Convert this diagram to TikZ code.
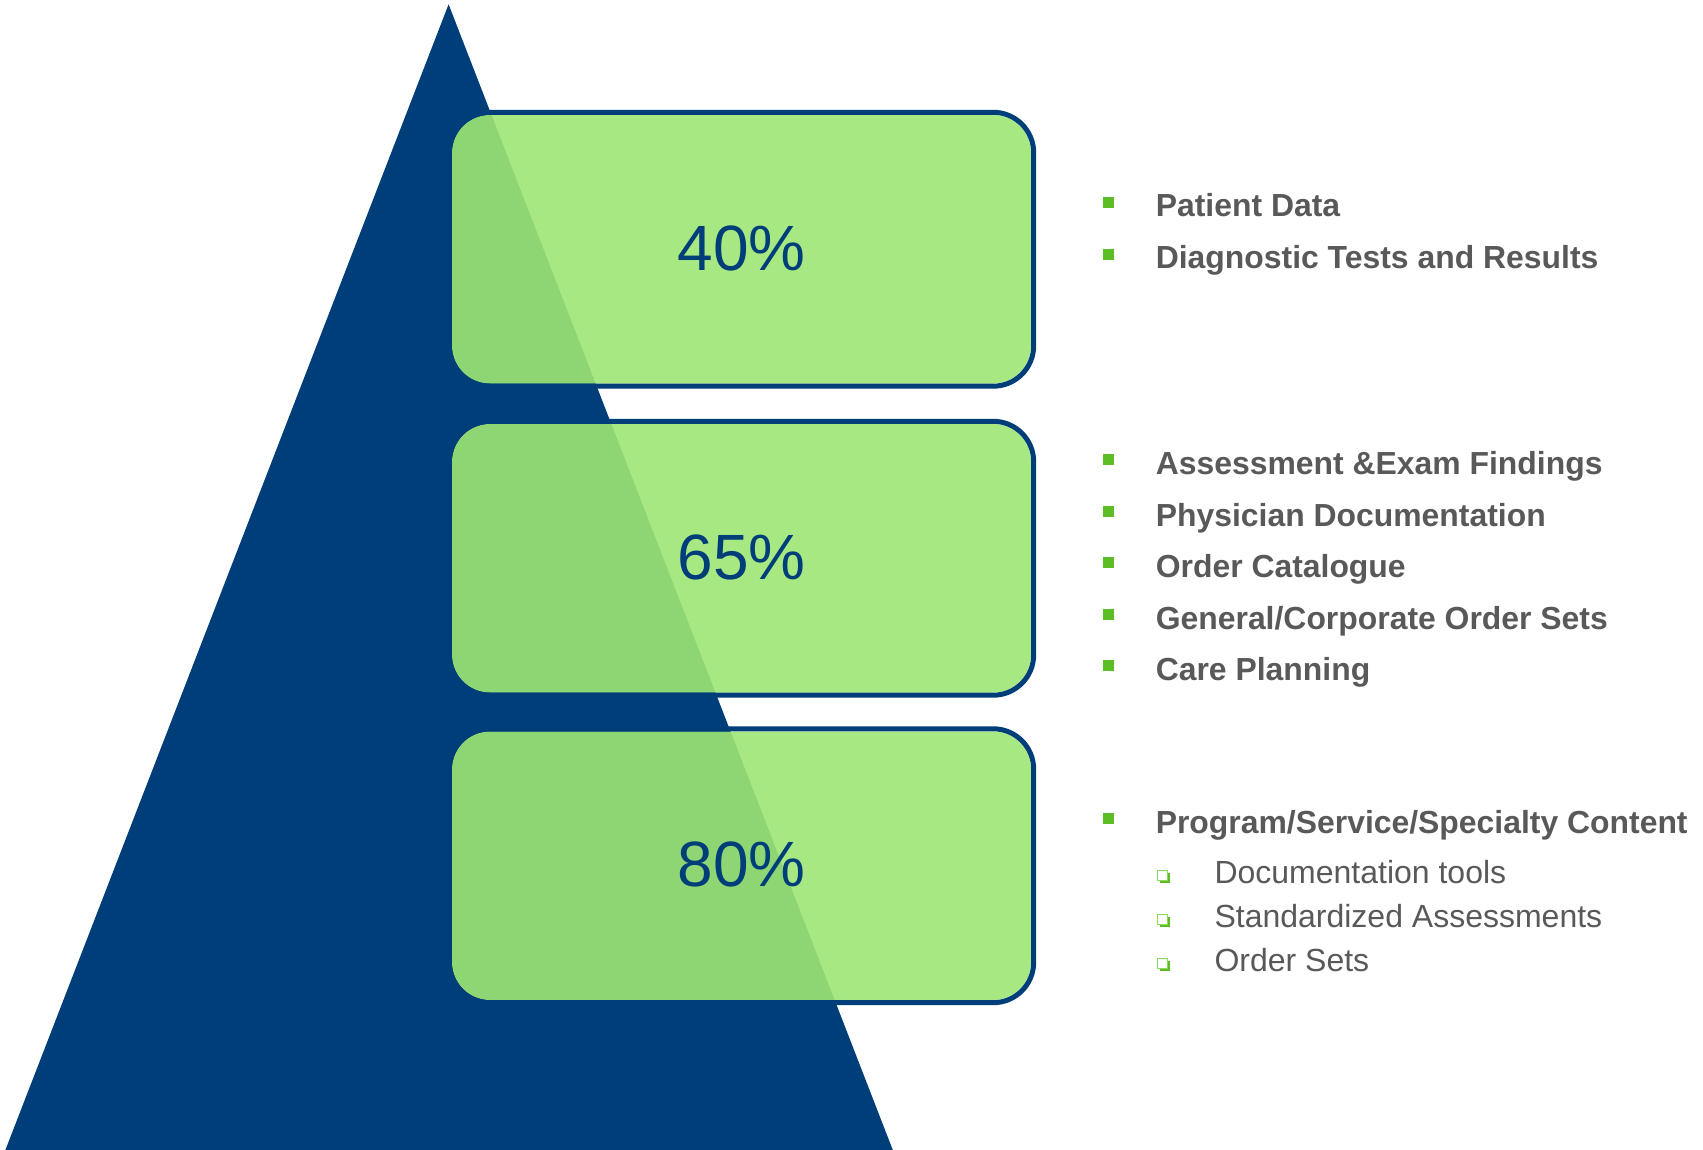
\documentclass[tikz,border=0pt]{standalone}
\usepackage{fontspec}
\setmainfont{Liberation Sans}
\usetikzlibrary{shadows}
\definecolor{navy}{RGB}{0,62,122}
\definecolor{boxgreen}{RGB}{158,230,116}
\definecolor{txtgray}{RGB}{89,89,89}
\definecolor{bulgreen}{RGB}{92,190,36}
\definecolor{bullight}{RGB}{140,220,90}
\begin{document}
\begin{tikzpicture}[x=1pt,y=-1pt,
  pctbox/.style={fill=boxgreen, fill opacity=0.9, text opacity=1,
    rounded corners=38pt, minimum width=579pt, minimum height=268.5pt,
    inner sep=0pt, text=navy, font=\fontsize{64}{70}\selectfont},
  rim/.style={draw=navy, line width=5pt, rounded corners=40.5pt},
  sq/.style={fill=bulgreen, minimum size=11pt, inner sep=0pt, outer sep=0pt},
  hsq/.style={draw=bullight, fill=white, line width=1.7pt, minimum size=10pt,
    inner sep=0pt, outer sep=0pt,
    drop shadow={shadow xshift=2.2pt, shadow yshift=-2.2pt, fill=bulgreen, opacity=1}},
  item/.style={anchor=base west, inner sep=0pt, text=txtgray,
    font=\fontsize{31.9}{38}\selectfont\bfseries},
  subitem/.style={anchor=base west, inner sep=0pt, text=txtgray,
    font=\fontsize{32}{38}\selectfont}]
\useasboundingbox (0,0) rectangle (1703,1150);

% pyramid
\fill[navy] (448.6,4.3) -- (5.4,1150) -- (892.8,1150) -- cycle;

% percentage boxes (translucent fill, rim kept just outside the fill)
\node[pctbox] (box1) at (741.5,249.25) {\raisebox{2.5pt}{40\%}};
\node[pctbox] (box2) at (741.5,558.25) {\raisebox{2.5pt}{65\%}};
\node[pctbox] (box3) at (741.5,865.75) {\raisebox{2.5pt}{80\%}};
\foreach \b in {box1,box2,box3}
  \draw[rim] ([shift={(-2.5,-2.5)}]\b.north west) rectangle ([shift={(2.5,2.5)}]\b.south east);

% first group
\node[sq] (b1) at (1108.5,202.5) {};
\node[item] (t1) at (1155.6,217) {Patient Data};
\node[sq] (b2) at (1108.5,254.5) {};
\node[item] (t2) at (1155.6,269) {Diagnostic Tests and Results};

% second group
\node[sq] (b3) at (1108.5,459.5) {};
\node[item] (t3) at (1155.6,474) {Assessment \&Exam Findings};
\node[sq] (b4) at (1108.5,511.5) {};
\node[item] (t4) at (1155.6,526) {Physician Documentation};
\node[sq] (b5) at (1108.5,562.5) {};
\node[item] (t5) at (1155.6,577) {Order Catalogue};
\node[sq] (b6) at (1108.5,614.5) {};
\node[item] (t6) at (1155.6,629) {General/Corporate Order Sets};
\node[sq] (b7) at (1108.5,665.5) {};
\node[item] (t7) at (1155.6,680) {Care Planning};

% third group
\node[sq] (b8) at (1108.5,818.5) {};
\node[item] (t8) at (1155.6,833) {Program/Service/Specialty Content};
\node[hsq] (s1) at (1162.5,875.5) {};
\node[subitem] (u1) at (1214.3,883) {Documentation tools};
\node[hsq] (s2) at (1162.5,919.5) {};
\node[subitem] (u2) at (1214.3,927) {Standardized Assessments};
\node[hsq] (s3) at (1162.5,963.5) {};
\node[subitem] (u3) at (1214.3,971) {Order Sets};
\end{tikzpicture}
\end{document}
